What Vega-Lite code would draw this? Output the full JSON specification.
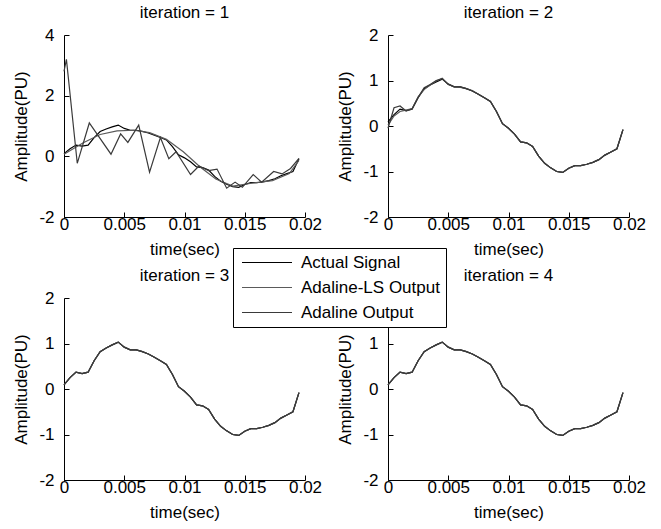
{
  "$schema": "https://vega.github.io/schema/vega-lite/v6.json",
  "padding": {"left": 12, "top": 4, "right": 5, "bottom": 3},
  "spacing": 10,
  "datasets": {
    "d": [
      {"it":1,"t":0,"a":0.09},{"it":1,"t":0.0005,"a":0.25},{"it":1,"t":0.001,"a":0.37},{"it":1,"t":0.0015,"a":0.34},{"it":1,"t":0.002,"a":0.37},
      {"it":1,"t":0.0025,"a":0.62},{"it":1,"t":0.003,"a":0.82},{"it":1,"t":0.0035,"a":0.9},{"it":1,"t":0.004,"a":0.97},{"it":1,"t":0.0045,"a":1.03},
      {"it":1,"t":0.005,"a":0.92},{"it":1,"t":0.0055,"a":0.86},{"it":1,"t":0.006,"a":0.86},{"it":1,"t":0.0065,"a":0.82},{"it":1,"t":0.007,"a":0.77},
      {"it":1,"t":0.0075,"a":0.7},{"it":1,"t":0.008,"a":0.62},{"it":1,"t":0.0085,"a":0.54},{"it":1,"t":0.009,"a":0.32},{"it":1,"t":0.0095,"a":0.05},
      {"it":1,"t":0.01,"a":-0.05},{"it":1,"t":0.0105,"a":-0.18},{"it":1,"t":0.011,"a":-0.35},{"it":1,"t":0.0115,"a":-0.37},{"it":1,"t":0.012,"a":-0.45},
      {"it":1,"t":0.0125,"a":-0.66},{"it":1,"t":0.013,"a":-0.82},{"it":1,"t":0.0135,"a":-0.92},{"it":1,"t":0.014,"a":-1.0},{"it":1,"t":0.0145,"a":-1.02},
      {"it":1,"t":0.015,"a":-0.93},{"it":1,"t":0.0155,"a":-0.87},{"it":1,"t":0.016,"a":-0.87},{"it":1,"t":0.0165,"a":-0.84},{"it":1,"t":0.017,"a":-0.8},
      {"it":1,"t":0.0175,"a":-0.74},{"it":1,"t":0.018,"a":-0.64},{"it":1,"t":0.0185,"a":-0.57},{"it":1,"t":0.019,"a":-0.5},{"it":1,"t":0.0195,"a":-0.08},

      {"it":1,"t":0,"ls":0.07},{"it":1,"t":0.0016,"ls":0.45},{"it":1,"t":0.003,"ls":0.72},{"it":1,"t":0.0044,"ls":0.84},{"it":1,"t":0.0058,"ls":0.86},
      {"it":1,"t":0.0071,"ls":0.78},{"it":1,"t":0.0085,"ls":0.56},{"it":1,"t":0.0099,"ls":0.15},{"it":1,"t":0.0113,"ls":-0.35},{"it":1,"t":0.0126,"ls":-0.75},
      {"it":1,"t":0.014,"ls":-0.98},{"it":1,"t":0.0157,"ls":-0.88},{"it":1,"t":0.0173,"ls":-0.8},{"it":1,"t":0.0187,"ls":-0.57},{"it":1,"t":0.0195,"ls":-0.13},

      {"it":1,"t":0,"ad":2.8},{"it":1,"t":0.0002,"ad":3.2},{"it":1,"t":0.0011,"ad":-0.23},{"it":1,"t":0.0021,"ad":1.1},{"it":1,"t":0.0039,"ad":0.07},
      {"it":1,"t":0.0047,"ad":0.74},{"it":1,"t":0.0053,"ad":0.46},{"it":1,"t":0.0062,"ad":1.03},{"it":1,"t":0.0071,"ad":-0.52},{"it":1,"t":0.008,"ad":0.62},
      {"it":1,"t":0.0087,"ad":-0.08},{"it":1,"t":0.0093,"ad":0.15},{"it":1,"t":0.0105,"ad":-0.6},{"it":1,"t":0.0112,"ad":-0.32},{"it":1,"t":0.012,"ad":-0.47},
      {"it":1,"t":0.0127,"ad":-0.42},{"it":1,"t":0.0135,"ad":-1.05},{"it":1,"t":0.0142,"ad":-0.85},{"it":1,"t":0.0148,"ad":-1.02},{"it":1,"t":0.0157,"ad":-0.6},
      {"it":1,"t":0.0164,"ad":-0.85},{"it":1,"t":0.0174,"ad":-0.5},{"it":1,"t":0.0181,"ad":-0.58},{"it":1,"t":0.0188,"ad":-0.4},{"it":1,"t":0.0195,"ad":-0.07},

      {"it":2,"t":0,"a":0.09,"ls":0.02,"ad":-0.05},{"it":2,"t":0.0005,"a":0.25,"ls":0.22,"ad":0.4},{"it":2,"t":0.001,"a":0.37,"ls":0.32,"ad":0.44},{"it":2,"t":0.0015,"a":0.34,"ls":0.35,"ad":0.33},{"it":2,"t":0.002,"a":0.37,"ls":0.38,"ad":0.38},
      {"it":2,"t":0.0025,"a":0.62,"ls":0.64,"ad":0.63},{"it":2,"t":0.003,"a":0.82,"ls":0.8,"ad":0.84},{"it":2,"t":0.0035,"a":0.9,"ls":0.9,"ad":0.91},{"it":2,"t":0.004,"a":0.97,"ls":0.99,"ad":1.0},{"it":2,"t":0.0045,"a":1.03,"ls":1.05,"ad":1.04},
      {"it":2,"t":0.005,"a":0.92,"ls":0.91,"ad":0.92},{"it":2,"t":0.0055,"a":0.86,"ls":0.86,"ad":0.86},{"it":2,"t":0.006,"a":0.86,"ls":0.85,"ad":0.86},{"it":2,"t":0.0065,"a":0.82,"ls":0.82,"ad":0.82},{"it":2,"t":0.007,"a":0.77,"ls":0.78,"ad":0.77},
      {"it":2,"t":0.0075,"a":0.7,"ls":0.7,"ad":0.7},{"it":2,"t":0.008,"a":0.62,"ls":0.62,"ad":0.62},{"it":2,"t":0.0085,"a":0.54,"ls":0.54,"ad":0.54},{"it":2,"t":0.009,"a":0.32,"ls":0.32,"ad":0.32},{"it":2,"t":0.0095,"a":0.05,"ls":0.05,"ad":0.05},
      {"it":2,"t":0.01,"a":-0.05,"ls":-0.05,"ad":-0.05},{"it":2,"t":0.0105,"a":-0.18,"ls":-0.18,"ad":-0.18},{"it":2,"t":0.011,"a":-0.35,"ls":-0.35,"ad":-0.35},{"it":2,"t":0.0115,"a":-0.37,"ls":-0.37,"ad":-0.37},{"it":2,"t":0.012,"a":-0.45,"ls":-0.45,"ad":-0.45},
      {"it":2,"t":0.0125,"a":-0.66,"ls":-0.66,"ad":-0.66},{"it":2,"t":0.013,"a":-0.82,"ls":-0.82,"ad":-0.82},{"it":2,"t":0.0135,"a":-0.92,"ls":-0.92,"ad":-0.92},{"it":2,"t":0.014,"a":-1.0,"ls":-1.0,"ad":-1.0},{"it":2,"t":0.0145,"a":-1.02,"ls":-1.02,"ad":-1.02},
      {"it":2,"t":0.015,"a":-0.93,"ls":-0.93,"ad":-0.93},{"it":2,"t":0.0155,"a":-0.87,"ls":-0.87,"ad":-0.87},{"it":2,"t":0.016,"a":-0.87,"ls":-0.87,"ad":-0.87},{"it":2,"t":0.0165,"a":-0.84,"ls":-0.84,"ad":-0.84},{"it":2,"t":0.017,"a":-0.8,"ls":-0.8,"ad":-0.8},
      {"it":2,"t":0.0175,"a":-0.74,"ls":-0.74,"ad":-0.74},{"it":2,"t":0.018,"a":-0.64,"ls":-0.64,"ad":-0.64},{"it":2,"t":0.0185,"a":-0.57,"ls":-0.57,"ad":-0.57},{"it":2,"t":0.019,"a":-0.5,"ls":-0.5,"ad":-0.5},{"it":2,"t":0.0195,"a":-0.08,"ls":-0.08,"ad":-0.08},

      {"it":3,"t":0,"a":0.09,"ls":0.09,"ad":0.09},{"it":3,"t":0.0005,"a":0.25,"ls":0.25,"ad":0.25},{"it":3,"t":0.001,"a":0.37,"ls":0.37,"ad":0.37},{"it":3,"t":0.0015,"a":0.34,"ls":0.34,"ad":0.34},{"it":3,"t":0.002,"a":0.37,"ls":0.37,"ad":0.37},
      {"it":3,"t":0.0025,"a":0.62,"ls":0.62,"ad":0.62},{"it":3,"t":0.003,"a":0.82,"ls":0.82,"ad":0.82},{"it":3,"t":0.0035,"a":0.9,"ls":0.9,"ad":0.9},{"it":3,"t":0.004,"a":0.97,"ls":0.97,"ad":0.97},{"it":3,"t":0.0045,"a":1.03,"ls":1.03,"ad":1.03},
      {"it":3,"t":0.005,"a":0.92,"ls":0.92,"ad":0.92},{"it":3,"t":0.0055,"a":0.86,"ls":0.86,"ad":0.86},{"it":3,"t":0.006,"a":0.86,"ls":0.86,"ad":0.86},{"it":3,"t":0.0065,"a":0.82,"ls":0.82,"ad":0.82},{"it":3,"t":0.007,"a":0.77,"ls":0.77,"ad":0.77},
      {"it":3,"t":0.0075,"a":0.7,"ls":0.7,"ad":0.7},{"it":3,"t":0.008,"a":0.62,"ls":0.62,"ad":0.62},{"it":3,"t":0.0085,"a":0.54,"ls":0.54,"ad":0.54},{"it":3,"t":0.009,"a":0.32,"ls":0.32,"ad":0.32},{"it":3,"t":0.0095,"a":0.05,"ls":0.05,"ad":0.05},
      {"it":3,"t":0.01,"a":-0.05,"ls":-0.05,"ad":-0.05},{"it":3,"t":0.0105,"a":-0.18,"ls":-0.18,"ad":-0.18},{"it":3,"t":0.011,"a":-0.35,"ls":-0.35,"ad":-0.35},{"it":3,"t":0.0115,"a":-0.37,"ls":-0.37,"ad":-0.37},{"it":3,"t":0.012,"a":-0.45,"ls":-0.45,"ad":-0.45},
      {"it":3,"t":0.0125,"a":-0.66,"ls":-0.66,"ad":-0.66},{"it":3,"t":0.013,"a":-0.82,"ls":-0.82,"ad":-0.82},{"it":3,"t":0.0135,"a":-0.92,"ls":-0.92,"ad":-0.92},{"it":3,"t":0.014,"a":-1.0,"ls":-1.0,"ad":-1.0},{"it":3,"t":0.0145,"a":-1.02,"ls":-1.02,"ad":-1.02},
      {"it":3,"t":0.015,"a":-0.93,"ls":-0.93,"ad":-0.93},{"it":3,"t":0.0155,"a":-0.87,"ls":-0.87,"ad":-0.87},{"it":3,"t":0.016,"a":-0.87,"ls":-0.87,"ad":-0.87},{"it":3,"t":0.0165,"a":-0.84,"ls":-0.84,"ad":-0.84},{"it":3,"t":0.017,"a":-0.8,"ls":-0.8,"ad":-0.8},
      {"it":3,"t":0.0175,"a":-0.74,"ls":-0.74,"ad":-0.74},{"it":3,"t":0.018,"a":-0.64,"ls":-0.64,"ad":-0.64},{"it":3,"t":0.0185,"a":-0.57,"ls":-0.57,"ad":-0.57},{"it":3,"t":0.019,"a":-0.5,"ls":-0.5,"ad":-0.5},{"it":3,"t":0.0195,"a":-0.08,"ls":-0.08,"ad":-0.08},

      {"it":4,"t":0,"a":0.09,"ls":0.09,"ad":0.09},{"it":4,"t":0.0005,"a":0.25,"ls":0.25,"ad":0.25},{"it":4,"t":0.001,"a":0.37,"ls":0.37,"ad":0.37},{"it":4,"t":0.0015,"a":0.34,"ls":0.34,"ad":0.34},{"it":4,"t":0.002,"a":0.37,"ls":0.37,"ad":0.37},
      {"it":4,"t":0.0025,"a":0.62,"ls":0.62,"ad":0.62},{"it":4,"t":0.003,"a":0.82,"ls":0.82,"ad":0.82},{"it":4,"t":0.0035,"a":0.9,"ls":0.9,"ad":0.9},{"it":4,"t":0.004,"a":0.97,"ls":0.97,"ad":0.97},{"it":4,"t":0.0045,"a":1.03,"ls":1.03,"ad":1.03},
      {"it":4,"t":0.005,"a":0.92,"ls":0.92,"ad":0.92},{"it":4,"t":0.0055,"a":0.86,"ls":0.86,"ad":0.86},{"it":4,"t":0.006,"a":0.86,"ls":0.86,"ad":0.86},{"it":4,"t":0.0065,"a":0.82,"ls":0.82,"ad":0.82},{"it":4,"t":0.007,"a":0.77,"ls":0.77,"ad":0.77},
      {"it":4,"t":0.0075,"a":0.7,"ls":0.7,"ad":0.7},{"it":4,"t":0.008,"a":0.62,"ls":0.62,"ad":0.62},{"it":4,"t":0.0085,"a":0.54,"ls":0.54,"ad":0.54},{"it":4,"t":0.009,"a":0.32,"ls":0.32,"ad":0.32},{"it":4,"t":0.0095,"a":0.05,"ls":0.05,"ad":0.05},
      {"it":4,"t":0.01,"a":-0.05,"ls":-0.05,"ad":-0.05},{"it":4,"t":0.0105,"a":-0.18,"ls":-0.18,"ad":-0.18},{"it":4,"t":0.011,"a":-0.35,"ls":-0.35,"ad":-0.35},{"it":4,"t":0.0115,"a":-0.37,"ls":-0.37,"ad":-0.37},{"it":4,"t":0.012,"a":-0.45,"ls":-0.45,"ad":-0.45},
      {"it":4,"t":0.0125,"a":-0.66,"ls":-0.66,"ad":-0.66},{"it":4,"t":0.013,"a":-0.82,"ls":-0.82,"ad":-0.82},{"it":4,"t":0.0135,"a":-0.92,"ls":-0.92,"ad":-0.92},{"it":4,"t":0.014,"a":-1.0,"ls":-1.0,"ad":-1.0},{"it":4,"t":0.0145,"a":-1.02,"ls":-1.02,"ad":-1.02},
      {"it":4,"t":0.015,"a":-0.93,"ls":-0.93,"ad":-0.93},{"it":4,"t":0.0155,"a":-0.87,"ls":-0.87,"ad":-0.87},{"it":4,"t":0.016,"a":-0.87,"ls":-0.87,"ad":-0.87},{"it":4,"t":0.0165,"a":-0.84,"ls":-0.84,"ad":-0.84},{"it":4,"t":0.017,"a":-0.8,"ls":-0.8,"ad":-0.8},
      {"it":4,"t":0.0175,"a":-0.74,"ls":-0.74,"ad":-0.74},{"it":4,"t":0.018,"a":-0.64,"ls":-0.64,"ad":-0.64},{"it":4,"t":0.0185,"a":-0.57,"ls":-0.57,"ad":-0.57},{"it":4,"t":0.019,"a":-0.5,"ls":-0.5,"ad":-0.5},{"it":4,"t":0.0195,"a":-0.08,"ls":-0.08,"ad":-0.08}
    ]
  },
  "config": {
    "view": {"stroke": null},
    "font": "Liberation Sans",
    "axis": {"grid": false, "domainColor": "#000", "tickColor": "#000", "tickSize": -5, "labelFontSize": 17, "titleFontSize": 17, "titleFontWeight": "normal", "labelColor": "#000", "titleColor": "#000", "labelFlush": false, "labelExpr": "'' + datum.value"},
    "axisX": {"titlePadding": 9, "labelPadding": 4},
    "axisY": {"titlePadding": 8, "labelPadding": 15},
    "title": {"fontSize": 17, "fontWeight": "normal", "color": "#000", "offset": 0},
    "legend": {"orient": "none", "legendX": 169, "legendY": 213, "title": null, "symbolType": "stroke", "symbolSize": 2500, "clipHeight": 17, "symbolStrokeWidth": 1.2, "symbolOffset": 2, "labelFontSize": 17, "labelColor": "#000", "strokeColor": "#000", "fillColor": "#fff", "padding": 6, "rowPadding": 7, "labelOffset": 8}
  },
  "vconcat": [
    {"hconcat": [
      {"width": 241, "height": 182, "title": "iteration = 1", "data": {"name": "d"},
       "transform": [{"filter": "datum.it == 1"}, {"fold": ["a", "ls", "ad"], "as": ["s", "v"]}, {"filter": "isValid(datum.v)"}],
       "mark": {"type": "line", "strokeWidth": 1.2},
       "encoding": {
         "x": {"field": "t", "type": "quantitative", "scale": {"domain": [0, 0.02], "nice": false}, "axis": {"title": "time(sec)", "values": [0, 0.005, 0.01, 0.015, 0.02]}},
         "y": {"field": "v", "type": "quantitative", "scale": {"domain": [-2, 4], "nice": false}, "axis": {"title": "Amplitude(PU)", "values": [-2, 0, 2, 4]}},
         "color": {"field": "s", "type": "nominal", "scale": {"domain": ["a", "ls", "ad"], "range": ["#000000", "#5a5a5a", "#3a3a3a"]}, "legend": {"labelExpr": "datum.label == 'a' ? 'Actual Signal' : datum.label == 'ls' ? 'Adaline-LS Output' : 'Adaline Output'"}}
       }},
      {"width": 241, "height": 182, "title": "iteration = 2", "data": {"name": "d"},
       "transform": [{"filter": "datum.it == 2"}, {"fold": ["a", "ls", "ad"], "as": ["s", "v"]}, {"filter": "isValid(datum.v)"}],
       "mark": {"type": "line", "strokeWidth": 1.2},
       "encoding": {
         "x": {"field": "t", "type": "quantitative", "scale": {"domain": [0, 0.02], "nice": false}, "axis": {"title": "time(sec)", "values": [0, 0.005, 0.01, 0.015, 0.02]}},
         "y": {"field": "v", "type": "quantitative", "scale": {"domain": [-2, 2], "nice": false}, "axis": {"title": "Amplitude(PU)", "values": [-2, -1, 0, 1, 2]}},
         "color": {"field": "s", "type": "nominal", "scale": {"domain": ["a", "ls", "ad"], "range": ["#000000", "#5a5a5a", "#3a3a3a"]}, "legend": {"labelExpr": "datum.label == 'a' ? 'Actual Signal' : datum.label == 'ls' ? 'Adaline-LS Output' : 'Adaline Output'"}}
       }}
    ], "spacing": 14},
    {"hconcat": [
      {"width": 241, "height": 182, "title": "iteration = 3", "data": {"name": "d"},
       "transform": [{"filter": "datum.it == 3"}, {"fold": ["a", "ls", "ad"], "as": ["s", "v"]}, {"filter": "isValid(datum.v)"}],
       "mark": {"type": "line", "strokeWidth": 1.2},
       "encoding": {
         "x": {"field": "t", "type": "quantitative", "scale": {"domain": [0, 0.02], "nice": false}, "axis": {"title": "time(sec)", "values": [0, 0.005, 0.01, 0.015, 0.02]}},
         "y": {"field": "v", "type": "quantitative", "scale": {"domain": [-2, 2], "nice": false}, "axis": {"title": "Amplitude(PU)", "values": [-2, -1, 0, 1, 2]}},
         "color": {"field": "s", "type": "nominal", "scale": {"domain": ["a", "ls", "ad"], "range": ["#000000", "#5a5a5a", "#3a3a3a"]}, "legend": {"labelExpr": "datum.label == 'a' ? 'Actual Signal' : datum.label == 'ls' ? 'Adaline-LS Output' : 'Adaline Output'"}}
       }},
      {"width": 241, "height": 182, "title": "iteration = 4", "data": {"name": "d"},
       "transform": [{"filter": "datum.it == 4"}, {"fold": ["a", "ls", "ad"], "as": ["s", "v"]}, {"filter": "isValid(datum.v)"}],
       "mark": {"type": "line", "strokeWidth": 1.2},
       "encoding": {
         "x": {"field": "t", "type": "quantitative", "scale": {"domain": [0, 0.02], "nice": false}, "axis": {"title": "time(sec)", "values": [0, 0.005, 0.01, 0.015, 0.02]}},
         "y": {"field": "v", "type": "quantitative", "scale": {"domain": [-2, 2], "nice": false}, "axis": {"title": "Amplitude(PU)", "values": [-2, -1, 0, 1, 2]}},
         "color": {"field": "s", "type": "nominal", "scale": {"domain": ["a", "ls", "ad"], "range": ["#000000", "#5a5a5a", "#3a3a3a"]}, "legend": {"labelExpr": "datum.label == 'a' ? 'Actual Signal' : datum.label == 'ls' ? 'Adaline-LS Output' : 'Adaline Output'"}}
       }}
    ], "spacing": 14}
  ]
}
